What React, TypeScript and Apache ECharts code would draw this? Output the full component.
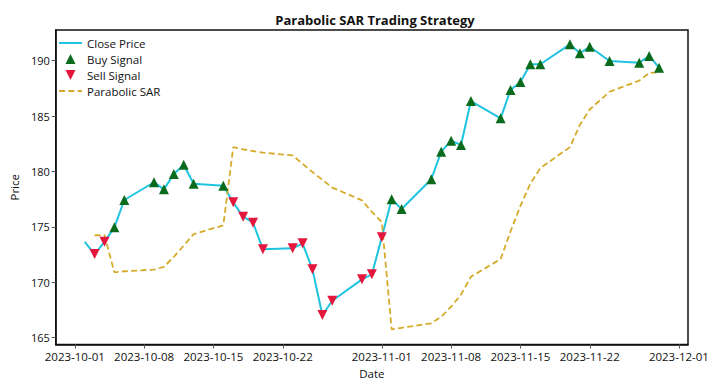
import { useEffect, useRef } from 'react';
import * as echarts from 'echarts';

const dates = [
  '2023-10-02', '2023-10-03', '2023-10-04', '2023-10-05', '2023-10-06',
  '2023-10-09', '2023-10-10', '2023-10-11', '2023-10-12', '2023-10-13',
  '2023-10-16', '2023-10-17', '2023-10-18', '2023-10-19', '2023-10-20',
  '2023-10-23', '2023-10-24', '2023-10-25', '2023-10-26', '2023-10-27',
  '2023-10-30', '2023-10-31', '2023-11-01', '2023-11-02', '2023-11-03',
  '2023-11-06', '2023-11-07', '2023-11-08', '2023-11-09', '2023-11-10',
  '2023-11-13', '2023-11-14', '2023-11-15', '2023-11-16', '2023-11-17',
  '2023-11-20', '2023-11-21', '2023-11-22', '2023-11-24', '2023-11-27',
  '2023-11-28', '2023-11-29',
];

const closePrices = [
  173.66, 172.55, 173.66, 174.96, 177.43,
  179.03, 178.39, 179.77, 180.61, 178.9,
  178.72, 177.22, 175.92, 175.38, 172.98,
  173.07, 173.52, 171.17, 167.05, 168.34,
  170.27, 170.72, 174.06, 177.49, 176.62,
  179.3, 181.79, 182.78, 182.39, 186.36,
  184.8, 187.36, 188.08, 189.68, 189.68,
  191.48, 190.67, 191.26, 189.97, 189.82,
  190.42, 189.37,
];

const sarValues: (number | null)[] = [
  null, 174.25, 174.25, 170.9, 171.0,
  171.15, 171.4, 172.3, 173.3, 174.35,
  175.15, 182.2, 182.0, 181.85, 181.7,
  181.45, 180.7, 179.95, 179.25, 178.55,
  177.4, 176.35, 175.45, 165.75, 165.9,
  166.3, 166.9, 167.8, 168.9, 170.5,
  172.1, 174.6, 176.9, 178.9, 180.3,
  182.2, 184.2, 185.6, 187.2, 188.2,
  188.9, 188.95,
];

// B = buy, S = sell, '' = none
const signals = [
  '', 'S', 'S', 'B', 'B',
  'B', 'B', 'B', 'B', 'B',
  'B', 'S', 'S', 'S', 'S',
  'S', 'S', 'S', 'S', 'S',
  'S', 'S', 'S', 'B', 'B',
  'B', 'B', 'B', 'B', 'B',
  'B', 'B', 'B', 'B', 'B',
  'B', 'B', 'B', 'B', 'B',
  'B', 'B',
];

const xTickDates = [
  '2023-10-01', '2023-10-08', '2023-10-15', '2023-10-22', '2023-11-01',
  '2023-11-08', '2023-11-15', '2023-11-22', '2023-12-01',
];
const yTicks = [165, 170, 175, 180, 185, 190];

const DAY = 86400000;
const ts = (s: string) => {
  const [y, m, d] = s.split('-').map(Number);
  return Date.UTC(y, m - 1, d);
};
const pad = (n: number) => (n < 10 ? '0' + n : '' + n);
const fmt = (v: number) => {
  const d = new Date(Math.round(v / DAY) * DAY);
  return `${d.getUTCFullYear()}-${pad(d.getUTCMonth() + 1)}-${pad(d.getUTCDate())}`;
};

const FONT = '"Open Sans", "DejaVu Sans", sans-serif';

const UP_TRI = 'path://M5,0L10,10L0,10Z';
const DOWN_TRI = 'path://M0,0L10,0L5,10Z';
const SOLID_ICON = 'path://M0,0L23,0L23,2L0,2Z';
const DASH_ICON = 'path://M0,0h6v2h-6z M9.3,0h6v2h-6z M18.6,0h4.4v2h-4.4z';

const CLOSE_COLOR = '#1ec3e0';
const SAR_COLOR = '#d6ab2b';
const BUY_COLOR = '#0b6b1c';
const SELL_COLOR = '#e3163c';
const TEXT_COLOR = '#111';

export default function App() {
  const ref = useRef<HTMLDivElement>(null);
  useEffect(() => {
    const chart = echarts.init(ref.current!, null, { renderer: 'svg' });
    const closeData = dates.map((d, i) => [ts(d), closePrices[i]]);
    const sarData = dates.map((d, i) => [ts(d), sarValues[i]]);
    const buyData = dates
      .map((d, i) => (signals[i] === 'B' ? [ts(d), closePrices[i]] : null))
      .filter((x) => x !== null);
    const sellData = dates
      .map((d, i) => (signals[i] === 'S' ? [ts(d), closePrices[i]] : null))
      .filter((x) => x !== null);
    const xMin = ts(dates[0]) - 2.92 * DAY;
    const xMax = ts(dates[dates.length - 1]) + 2.92 * DAY;
    const xTicks = xTickDates.map(ts);

    chart.setOption({
      animation: false,
      backgroundColor: '#ffffff',
      textStyle: { fontFamily: FONT },
      title: {
        text: 'Parabolic SAR Trading Strategy',
        left: 370,
        top: 8,
        textAlign: 'center',
        textStyle: { fontFamily: FONT, fontSize: 13, fontWeight: 'bold', color: '#111' },
      },
      legend: {
        orient: 'vertical',
        left: 59,
        top: 37,
        padding: 0,
        itemWidth: 23,
        itemHeight: 10,
        itemGap: 4,
        textStyle: { fontFamily: FONT, fontSize: 11.5, color: TEXT_COLOR },
        data: [
          { name: 'Close Price', icon: SOLID_ICON },
          { name: 'Buy Signal', icon: UP_TRI },
          { name: 'Sell Signal', icon: DOWN_TRI },
          { name: 'Parabolic SAR', icon: DASH_ICON },
        ],
      },
      grid: {
        left: 52,
        right: 32,
        top: 30,
        bottom: 47.5,
        show: true,
        borderColor: '#111',
        borderWidth: 1.5,
        containLabel: false,
      },
      xAxis: {
        type: 'value',
        min: xMin,
        max: xMax,
        name: 'Date',
        nameLocation: 'middle',
        nameGap: 20,
        nameTextStyle: { fontFamily: FONT, fontSize: 11.5, color: TEXT_COLOR },
        axisLine: { show: true, onZero: false, lineStyle: { color: '#111', width: 1.5 } },
        axisTick: { show: true, length: 4, lineStyle: { color: '#555' }, customValues: xTicks },
        axisLabel: {
          show: true,
          margin: 6,
          fontFamily: FONT,
          fontSize: 11.5,
          color: TEXT_COLOR,
          customValues: xTicks,
          formatter: (v: number) => fmt(v),
          hideOverlap: false,
        },
        splitLine: { show: false },
      },
      yAxis: {
        type: 'value',
        min: 164.39,
        max: 192.77,
        name: 'Price',
        nameLocation: 'middle',
        nameGap: 25,
        nameTextStyle: { fontFamily: FONT, fontSize: 11.5, color: TEXT_COLOR },
        axisLine: { show: true, onZero: false, lineStyle: { color: '#111', width: 1.5 } },
        axisTick: { show: true, length: 4, lineStyle: { color: '#555' }, customValues: yTicks },
        axisLabel: {
          show: true,
          margin: 6,
          fontFamily: FONT,
          fontSize: 11,
          color: TEXT_COLOR,
          customValues: yTicks,
        },
        splitLine: { show: false },
      },
      series: [
        {
          name: 'Close Price',
          type: 'line',
          data: closeData,
          symbol: 'none',
          lineStyle: { color: CLOSE_COLOR, width: 2 },
          itemStyle: { color: CLOSE_COLOR },
          z: 2,
        },
        {
          name: 'Parabolic SAR',
          type: 'line',
          data: sarData,
          symbol: 'none',
          connectNulls: false,
          lineStyle: { color: SAR_COLOR, width: 1.8, type: [6, 3.3] },
          itemStyle: { color: SAR_COLOR },
          z: 2,
        },
        {
          name: 'Buy Signal',
          type: 'scatter',
          data: buyData,
          symbol: UP_TRI,
          symbolSize: 10,
          itemStyle: { color: BUY_COLOR, opacity: 1 },
          z: 4,
        },
        {
          name: 'Sell Signal',
          type: 'scatter',
          data: sellData,
          symbol: DOWN_TRI,
          symbolSize: 10,
          itemStyle: { color: SELL_COLOR, opacity: 1 },
          z: 4,
        },
      ],
    });
    return () => chart.dispose();
  }, []);
  return (
    <div
      ref={ref}
      style={{ position: 'fixed', left: 0, top: 0, width: 720, height: 392 }}
    />
  );
}
